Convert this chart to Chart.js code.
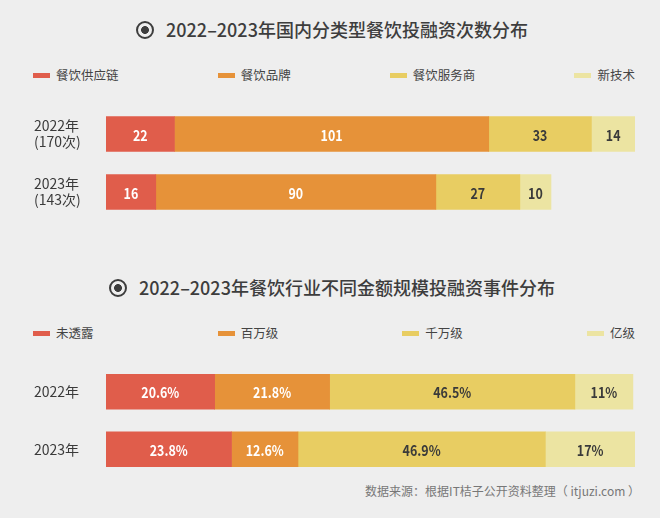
<!DOCTYPE html>
<html><head><meta charset="utf-8">
<script src="https://cdn.jsdelivr.net/npm/chart.js@4"></script>
<style>
html,body{margin:0;padding:0;background:#eeeeee;}
body{width:660px;height:518px;position:relative;overflow:hidden;font-family:"Noto Sans CJK SC","Noto Sans",sans-serif;}
.title{position:absolute;left:0;width:664px;text-align:center;font-size:18px;font-weight:500;color:#3d3d3d;line-height:24px;white-space:nowrap;}
.icon{display:inline-block;box-sizing:border-box;width:18px;height:18px;border:2.5px solid #3d3d3d;border-radius:50%;vertical-align:-2px;margin-right:12px;background:radial-gradient(circle,#3d3d3d 0,#3d3d3d 3.6px,transparent 4.2px);}
.legend{position:absolute;left:33px;right:25px;display:flex;justify-content:space-between;font-size:12.5px;color:#444;line-height:18px;}
.legend .item{display:flex;align-items:center;}
.sw{display:inline-block;width:17px;height:5px;margin-right:6px;}
.box{position:absolute;left:0;}
.source{position:absolute;right:20px;top:482px;font-size:12px;color:#777;line-height:18px;white-space:nowrap;}
</style></head>
<body>
<div class="title" id="t1" style="top:17px"></div>
<div class="legend" id="lg1" style="top:66px"></div>
<canvas class="box" id="c1" width="660" height="116" style="top:105px"></canvas>
<div class="title" id="t2" style="top:275px"></div>
<div class="legend" id="lg2" style="top:324px"></div>
<canvas class="box" id="c2" width="660" height="115" style="top:363px"></canvas>
<div class="source" id="src"></div>
<script>
// ---- data ----
const title1 = '2022–2023年国内分类型餐饮投融资次数分布';
const title2 = '2022–2023年餐饮行业不同金额规模投融资事件分布';
const sourceText = '数据来源：根据IT桔子公开资料整理（ itjuzi.com ）';

const yearLabels1 = [['2022年', '(170次)'], ['2023年', '(143次)']];
const typeNames = ['餐饮供应链', '餐饮品牌', '餐饮服务商', '新技术'];
const supplyChain = [22, 16];
const brand = [101, 90];
const service = [33, 27];
const newTech = [14, 10];

const yearLabels2 = ['2022年', '2023年'];
const sizeNames = ['未透露', '百万级', '千万级', '亿级'];
const undisclosed = [20.6, 23.8];
const millions = [21.8, 12.6];
const tenMillions = [46.5, 46.9];
const hundredMillions = [11, 17];

// ---- styles ----
const colors = ['#e05d4b', '#e69239', '#e8cd62', '#ece4a2'];
const labelColors = ['#ffffff', '#ffffff', '#3a3a3a', '#3a3a3a'];
const FONT = '"Noto Sans CJK SC", "Noto Sans", sans-serif';

function setTitle(id, text) {
  const el = document.getElementById(id);
  const ic = document.createElement('span'); ic.className = 'icon';
  el.appendChild(ic);
  el.appendChild(document.createTextNode(text));
}
setTitle('t1', title1);
setTitle('t2', title2);
document.getElementById('src').textContent = sourceText;

function buildLegend(id, names) {
  const el = document.getElementById(id);
  names.forEach((n, i) => {
    const it = document.createElement('span'); it.className = 'item';
    const sw = document.createElement('span'); sw.className = 'sw'; sw.style.background = colors[i];
    it.appendChild(sw);
    it.appendChild(document.createTextNode(n));
    el.appendChild(it);
  });
}
buildLegend('lg1', typeNames);
buildLegend('lg2', sizeNames);

const inBarLabels = {
  id: 'inBarLabels',
  afterDatasetsDraw(chart, args, opts) {
    const ctx = chart.ctx;
    chart.data.datasets.forEach((ds, i) => {
      const meta = chart.getDatasetMeta(i);
      meta.data.forEach((el, j) => {
        const c = el.getCenterPoint();
        ctx.save();
        ctx.font = '600 15px ' + FONT;
        ctx.textAlign = 'center';
        ctx.textBaseline = 'middle';
        ctx.fillStyle = labelColors[i];
        ctx.translate(c.x, c.y + 1);
        ctx.scale(0.83, 1);
        ctx.fillText(opts.format(ds.data[j]), 0, 0);
        ctx.restore();
      });
    });
  }
};

function makeChart(id, labels, names, series, xmax, fmt) {
  return new Chart(document.getElementById(id), {
    type: 'bar',
    data: {
      labels: labels,
      datasets: series.map((d, i) => ({
        label: names[i], data: d, backgroundColor: colors[i],
        barThickness: 35, borderWidth: 0
      }))
    },
    options: {
      indexAxis: 'y', responsive: false, animation: false,
      layout: { padding: { left: 34, right: 25, top: 0, bottom: 0 } },
      plugins: { legend: { display: false }, tooltip: { enabled: false }, inBarLabels: { format: fmt } },
      scales: {
        x: { stacked: true, display: false, min: 0, max: xmax },
        y: {
          stacked: true,
          grid: { display: false }, border: { display: false },
          ticks: { crossAlign: 'far', color: '#3a3a3a', padding: 0, font: { family: FONT, size: 14, lineHeight: 1.15 } },
          afterFit(s) { s.width = 72; s.paddingTop = 0; s.paddingBottom = 0; }
        }
      }
    },
    plugins: [inBarLabels]
  });
}

const series1 = [supplyChain, brand, service, newTech];
const totals1 = yearLabels1.map((_, j) => series1.reduce((a, s) => a + s[j], 0));
makeChart('c1', yearLabels1, typeNames, series1, Math.max(...totals1), v => String(v));

const series2 = [undisclosed, millions, tenMillions, hundredMillions];
const totals2 = yearLabels2.map((_, j) => series2.reduce((a, s) => a + s[j], 0));
makeChart('c2', yearLabels2, sizeNames, series2, Math.max(...totals2), v => v + '%');
</script>
</body></html>
